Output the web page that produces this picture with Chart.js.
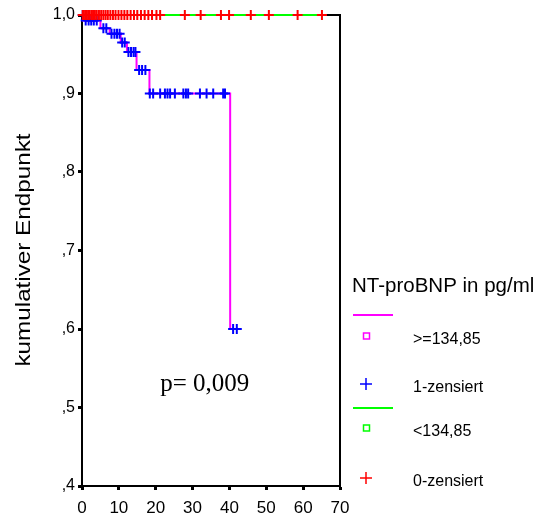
<!DOCTYPE html>
<html>
<head>
<meta charset="utf-8">
<script src="https://cdn.jsdelivr.net/npm/chart.js@4"></script>
<style>
  html, body { margin: 0; padding: 0; background: #fff; }
  #wrap { width: 541px; height: 521px; }
</style>
</head>
<body>
<div id="wrap"><canvas id="kmChart" width="541" height="521"></canvas></div>
<script>
// Kaplan-Meier: group >=134,85 (steps), group <134,85 (flat)
const highTimes = [0, 0.3, 5, 7.5, 10.5, 12.2, 14.8, 18.3, 40.2, 42.4];
const highSurv  = [1.0, 0.993, 0.983, 0.976, 0.965, 0.953, 0.930, 0.900, 0.600, 0.600];

const lowTimes = [0, 65.1];
const lowSurv  = [1.0, 1.0];

// censored cases (1-zensiert) of the high group
const highCensTimes = [0.2, 1.0, 1.8, 2.5, 3.2, 4.0, 5.8, 6.6, 8.0, 8.8, 9.5, 10.2, 10.9, 11.6,
  12.6, 13.3, 14.0, 14.5, 15.5, 16.3, 17.2,
  18.4, 19.3, 21.2, 22.5, 23.2, 23.9, 25.2, 27.5, 28.2, 28.8, 32.0, 33.8, 35.6, 38.3, 38.8,
  41.0, 42.0];
const highCensSurv = [1.0, 0.993, 0.993, 0.993, 0.993, 0.993, 0.983, 0.983, 0.976, 0.976, 0.976, 0.976, 0.965, 0.965,
  0.953, 0.953, 0.953, 0.953, 0.930, 0.930, 0.930,
  0.900, 0.900, 0.900, 0.900, 0.900, 0.900, 0.900, 0.900, 0.900, 0.900, 0.900, 0.900, 0.900, 0.900, 0.900,
  0.600, 0.600];

// censored cases (0-zensiert) of the low group, all at 1,0
const lowCensTimes = [0.2, 0.5, 0.9, 1.3, 1.7, 2.1, 2.6, 3.0, 3.5, 4.0, 4.6, 5.2, 5.8, 6.4, 7.0,
  7.7, 8.4, 9.1, 9.9, 10.7, 11.5, 12.3, 13.2, 14.1, 15.0, 16.0, 17.0, 18.0, 19.0, 20.2,
  21.2, 27.9, 32.2, 37.7, 39.9, 45.8, 50.7, 58.5, 65.1];
const lowCensSurv = lowCensTimes.map(() => 1.0);

const xTicks = [0, 10, 20, 30, 40, 50, 60, 70];
const yTickLabels = { 10: '1,0', 9: ',9', 8: ',8', 7: ',7', 6: ',6', 5: ',5', 4: ',4' };

const legendTitle = 'NT-proBNP in pg/ml';
const legendItems = [
  { kind: 'line', color: '#ff00ff' },
  { kind: 'square', color: '#ff00ff', text: '>=134,85' },
  { kind: 'cross', color: '#0000ff', text: '1-zensiert' },
  { kind: 'line', color: '#00ff00' },
  { kind: 'square', color: '#00ff00', text: '<134,85' },
  { kind: 'cross', color: '#ff0000', text: '0-zensiert' }
];
const pText = 'p= 0,009';
const yTitle = 'kumulativer Endpunkt';

const sans = '"Liberation Sans", Arial, sans-serif';
const toXY = (xs, ys) => xs.map((x, i) => ({ x: x, y: ys[i] }));

const framePlugin = {
  id: 'frame',
  beforeDatasetsDraw(chart) {
    const { ctx, chartArea: a } = chart;
    ctx.save();
    ctx.strokeStyle = '#000';
    ctx.lineWidth = 2;
    ctx.strokeRect(a.left, a.top, a.right - a.left, a.bottom - a.top);
    ctx.restore();
  },
  afterDraw(chart) {
    const { ctx, scales } = chart;
    ctx.save();
    // p-value annotation
    ctx.fillStyle = '#000';
    ctx.font = '25px "Liberation Serif", "Times New Roman", serif';
    ctx.textBaseline = 'alphabetic';
    ctx.fillText(pText, scales.x.getPixelForValue(21.2), scales.y.getPixelForValue(0.521));

    // y axis title (stretched along its length like the original)
    ctx.font = '20px ' + sans;
    const w = ctx.measureText(yTitle).width;
    ctx.translate(30, 250);
    ctx.rotate(-Math.PI / 2);
    ctx.scale(233 / w, 1);
    ctx.textAlign = 'center';
    ctx.textBaseline = 'alphabetic';
    ctx.fillText(yTitle, 0, 0);
    ctx.restore();

    // legend
    ctx.save();
    ctx.fillStyle = '#000';
    ctx.font = '20.5px ' + sans;
    ctx.textBaseline = 'middle';
    ctx.fillText(legendTitle, 352, 286);
    const rows = [315, 336, 384, 408, 428, 478];
    legendItems.forEach((it, i) => {
      const y = rows[i];
      ctx.strokeStyle = it.color;
      if (it.kind === 'line') {
        ctx.lineWidth = 2;
        ctx.beginPath(); ctx.moveTo(353, y); ctx.lineTo(393, y); ctx.stroke();
      } else if (it.kind === 'square') {
        ctx.lineWidth = 1.5;
        ctx.strokeRect(363.5, y - 3, 6, 6);
      } else {
        ctx.lineWidth = 1.5;
        ctx.beginPath();
        ctx.moveTo(360, y); ctx.lineTo(372, y);
        ctx.moveTo(366, y - 6); ctx.lineTo(366, y + 6);
        ctx.stroke();
      }
      if (it.text) {
        ctx.fillStyle = '#000';
        ctx.font = '16px ' + sans;
        ctx.fillText(it.text, 413, y + 4);
      }
    });
    ctx.restore();
  }
};

new Chart(document.getElementById('kmChart').getContext('2d'), {
  type: 'scatter',
  data: {
    datasets: [
      {
        label: '0-zensiert',
        data: toXY(lowCensTimes, lowCensSurv),
        showLine: false,
        pointStyle: 'cross',
        pointRadius: 5,
        borderColor: '#ff0000',
        borderWidth: 2,
        clip: false,
        order: 1
      },
      {
        label: '1-zensiert',
        data: toXY(highCensTimes, highCensSurv),
        showLine: false,
        pointStyle: 'cross',
        pointRadius: 5,
        borderColor: '#0000ff',
        borderWidth: 2,
        clip: false,
        order: 2
      },
      {
        label: '<134,85',
        data: toXY(lowTimes, lowSurv),
        showLine: true,
        stepped: 'before',
        borderColor: '#00ff00',
        borderWidth: 2,
        pointRadius: 0,
        clip: false,
        order: 3
      },
      {
        label: '>=134,85',
        data: toXY(highTimes, highSurv),
        showLine: true,
        stepped: 'before',
        borderColor: '#ff00ff',
        borderWidth: 2,
        pointRadius: 0,
        clip: false,
        order: 4
      }
    ]
  },
  options: {
    responsive: false,
    animation: false,
    events: [],
    layout: { padding: { top: 15, right: 201, left: 0, bottom: 0 } },
    plugins: { legend: { display: false }, tooltip: { enabled: false } },
    scales: {
      x: {
        type: 'linear',
        min: 0,
        max: 70,
        afterFit: (s) => { s.height = 35; },
        afterBuildTicks: (s) => { s.ticks = xTicks.map(v => ({ value: v })); },
        ticks: { color: '#000', font: { family: sans, size: 17 }, padding: 8,
                 callback: (v) => String(v) },
        border: { display: true, color: '#000', width: 2 },
        grid: { drawOnChartArea: false, drawTicks: true, tickLength: 4, tickWidth: 3, color: '#000' }
      },
      y: {
        type: 'linear',
        min: 0.4,
        max: 1.0,
        afterFit: (s) => { s.width = 82; },
        ticks: {
          stepSize: 0.1,
          color: '#000',
          font: { family: sans, size: 16 },
          padding: 3,
          callback: (v) => yTickLabels[Math.round(v * 10)]
        },
        border: { display: true, color: '#000', width: 2 },
        grid: { drawOnChartArea: false, drawTicks: true, tickLength: 4, tickWidth: 3, color: '#000' }
      }
    }
  },
  plugins: [framePlugin]
});
</script>
</body>
</html>
